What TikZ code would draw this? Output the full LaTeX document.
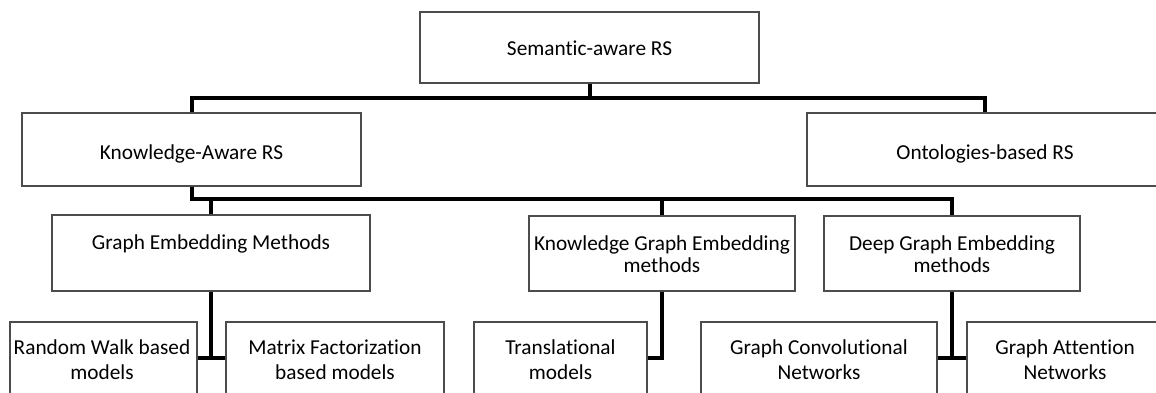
\documentclass[tikz,border=0pt]{standalone}
\usepackage{fontspec}
\setmainfont{Carlito}[Ligatures=NoCommon]
\begin{document}
\begin{tikzpicture}[x=1pt,y=-1pt,
  box/.style={draw=black!70, line width=1.2pt, fill=white, inner sep=0pt},
  conn/.style={line width=4pt, line join=miter},
  lbl/.style={font=\fontsize{21.3}{25}\selectfont, align=center, inner sep=0pt},
  lbltwo/.style={font=\fontsize{21.3}{22}\selectfont, align=center, inner sep=0pt}]
\useasboundingbox (0,0) rectangle (1156,392);
\clip (0,0) rectangle (1156,392);

% top level
\node[box, minimum width=339pt, minimum height=71pt] (sem) at (589.5,47.5) {};
% second level
\node[box, minimum width=339pt, minimum height=73pt] (kar) at (191.5,149.5) {};
\node[box, minimum width=356pt, minimum height=73pt] (ont) at (985,149.5) {};
% embedding families
\node[box, minimum width=318pt, minimum height=76pt] (ge)  at (211,253) {};
\node[box, minimum width=266pt, minimum height=75pt] (kge) at (662,253.5) {};
\node[box, minimum width=256pt, minimum height=75pt] (dge) at (952,253.5) {};
% model types
\node[box, minimum width=187pt, minimum height=76pt] (rw)  at (103.5,360) {};
\node[box, minimum width=218pt, minimum height=76pt] (mf)  at (335,360) {};
\node[box, minimum width=173pt, minimum height=76pt] (tr)  at (560.5,360) {};
\node[box, minimum width=236pt, minimum height=76pt] (gcn) at (819,360) {};
\node[box, minimum width=196pt, minimum height=76pt] (gat) at (1065,360) {};

% labels
\node[lbl] (sem-t) at (589.5,50) {\strut Semantic-aware RS};
\node[lbl] (kar-t) at (191.5,154) {\strut Knowledge-Aware RS};
\node[lbl] (ont-t) at (985,154) {\strut Ontologies-based RS};
\node[lbl] (ge-t)  at (211,244) {\strut Graph Embedding Methods};
\node[lbltwo] (kge-t) at (662,256.6) {\strut Knowledge Graph Embedding\\\strut methods};
\node[lbltwo] (dge-t) at (952,256.6) {\strut Deep Graph Embedding\\\strut methods};
\node[lbl] (rw-t)  at (102,361.5) {\strut Random Walk based\\\strut models};
\node[lbl] (mf-t)  at (335,361.5) {\strut Matrix Factorization\\\strut based models};
\node[lbl] (tr-t)  at (560.5,361.5) {\strut Translational\\\strut models};
\node[lbl] (gcn-t) at (819,361.5) {\strut Graph Convolutional\\\strut Networks};
\node[lbl] (gat-t) at (1065,361.5) {\strut Graph Attention\\\strut Networks};

% bus heights
\coordinate (busA) at (0,98);
\coordinate (busB) at (0,199);
\coordinate (busC) at (0,358);

% connectors
\draw[conn] (sem.south) -- (sem.south |- busA);
\draw[conn] (kar.north) -- (kar.north |- busA) -- (ont.north |- busA) -- (ont.north);
\draw[conn] (kar.south) -- (kar.south |- busB) -- (dge.north |- busB) -- (dge.north);
\draw[conn] (ge.north |- busB) -- (ge.north);
\draw[conn] (kge.north |- busB) -- (kge.north);

\draw[conn] (ge.south) -- (ge.south |- busC);
\draw[conn] (rw.east |- busC) -- (mf.west |- busC);
\draw[conn] (kge.south) -- (kge.south |- busC) -- (tr.east |- busC);
\draw[conn] (dge.south) -- (dge.south |- busC);
\draw[conn] (gcn.east |- busC) -- (gat.west |- busC);
\end{tikzpicture}
\end{document}
